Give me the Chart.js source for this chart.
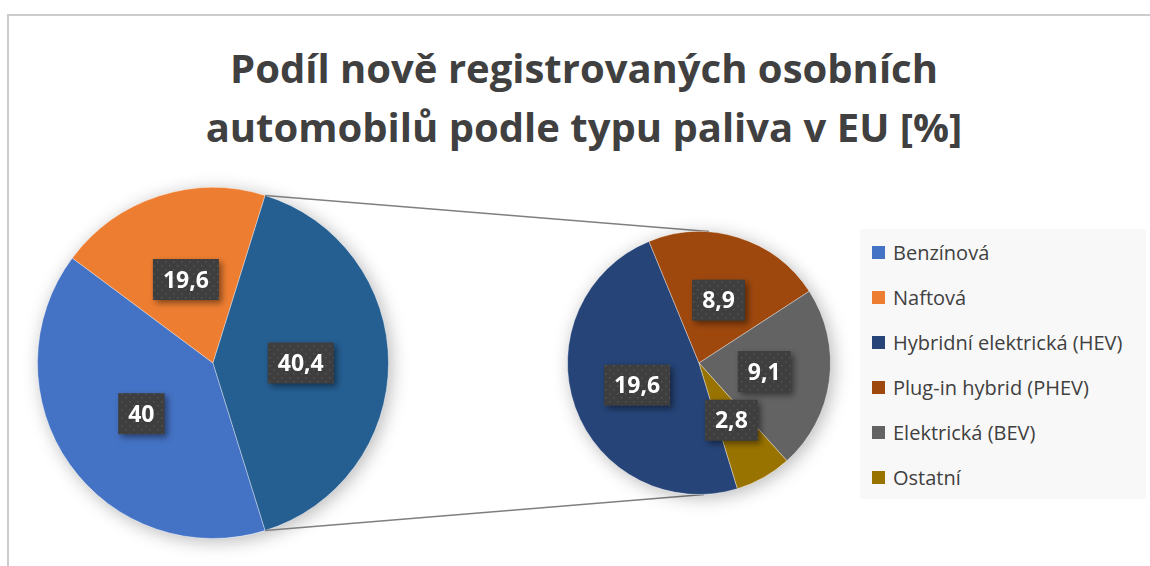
<!DOCTYPE html>
<html lang="cs">
  <head>
    <meta charset="UTF-8" />
    <title>Podíl nově registrovaných osobních automobilů</title>
    <script src="https://cdn.jsdelivr.net/npm/chart.js"></script>
    <style>
      body {
        margin: 0;
        background: #ffffff;
        font-family: "Open Sans", sans-serif;
      }
      #wrap {
        position: relative;
        width: 1150px;
        height: 566px;
        overflow: hidden;
      }
      .frame {
        position: absolute;
        left: 7px;
        top: 14px;
        right: -4px;
        bottom: -4px;
        border-top: 2px solid #cccccc;
        border-left: 2px solid #cccccc;
      }
      .layer {
        position: absolute;
        left: 0;
        top: 0;
        width: 1150px;
        height: 566px;
      }
      #title {
        position: absolute;
        left: 18px;
        width: 1132px;
        top: 38px;
        text-align: center;
        font-weight: bold;
        font-size: 40px;
        line-height: 59px;
        color: #404040;
      }
      #legend {
        position: absolute;
        left: 860px;
        top: 229px;
        width: 286px;
        height: 270px;
        background: #f8f8f8;
        padding-top: 0.5px;
        box-sizing: border-box;
      }
      #legend div {
        height: 45px;
        display: flex;
        align-items: center;
        padding-left: 12px;
        font-size: 20px;
        color: #404040;
      }
      #legend span {
        display: inline-block;
        width: 13px;
        height: 13px;
        margin-right: 8px;
      }
    </style>
  </head>
  <body>
    <div id="wrap">
      <div class="frame"></div>
      <div id="title">
        Podíl nově registrovaných osobních<br />automobilů podle typu paliva v EU [%]
      </div>
      <div class="layer"><canvas id="mainPie"></canvas></div>
      <div class="layer"><canvas id="subPie"></canvas></div>
      <div id="legend"></div>
    </div>

    <script>
      // hlavní koláč: poslední výseč = součet sekundárního koláče
      const mainLabels = ["Benzínová", "Naftová", "Ostatní typy"];
      const mainValues = [40, 19.6, 40.4];
      const mainColors = ["#4472C4", "#ED7D31", "#255E91"];

      // sekundární koláč
      const subLabels = [
        "Hybridní elektrická (HEV)",
        "Plug-in hybrid (PHEV)",
        "Elektrická (BEV)",
        "Ostatní",
      ];
      const subValues = [19.6, 8.9, 9.1, 2.8];
      const subColors = ["#264478", "#9E480E", "#636363", "#997300"];

      // tečkovaná výplň štítků
      const tile = document.createElement("canvas");
      tile.width = 8;
      tile.height = 8;
      const tctx = tile.getContext("2d");
      tctx.fillStyle = "#3e3e3e";
      tctx.fillRect(0, 0, 8, 8);
      tctx.fillStyle = "#555555";
      tctx.fillRect(1, 1, 1.5, 1.5);
      tctx.fillRect(5, 5, 1.5, 1.5);

      const pieShadow = {
        id: "pieShadow",
        beforeDatasetsDraw(chart) {
          const arc = chart.getDatasetMeta(0).data[0];
          const ctx = chart.ctx;
          ctx.save();
          ctx.shadowColor = "rgba(0,0,0,0.28)";
          ctx.shadowBlur = 18;
          ctx.shadowOffsetX = 3;
          ctx.shadowOffsetY = 3;
          ctx.beginPath();
          ctx.arc(arc.x, arc.y, arc.outerRadius, 0, Math.PI * 2);
          ctx.fillStyle = "#ffffff";
          ctx.fill();
          ctx.restore();
        },
      };

      const labelBoxes = {
        id: "labelBoxes",
        afterDatasetsDraw(chart) {
          const ctx = chart.ctx;
          const values = chart.data.datasets[0].data;
          const pattern = ctx.createPattern(tile, "repeat");
          ctx.save();
          ctx.font = 'bold 23px "Open Sans"';
          ctx.textAlign = "center";
          ctx.textBaseline = "alphabetic";
          chart.getDatasetMeta(0).data.forEach((arc, i) => {
            const p = arc.getCenterPoint();
            const txt = String(values[i]).replace(".", ",");
            const w = ctx.measureText(txt).width + 20;
            const h = 41;
            ctx.save();
            ctx.shadowColor = "rgba(0,0,0,0.45)";
            ctx.shadowBlur = 6;
            ctx.shadowOffsetX = 3;
            ctx.shadowOffsetY = 3;
            ctx.fillStyle = pattern;
            ctx.fillRect(p.x - w / 2, p.y - h / 2, w, h);
            ctx.restore();
            ctx.fillStyle = "#ffffff";
            ctx.fillText(txt, p.x, p.y + 8);
          });
          ctx.restore();
        },
      };

      const baseOptions = {
        responsive: true,
        maintainAspectRatio: false,
        animation: false,
        events: [],
        plugins: {
          legend: { display: false },
          tooltip: { enabled: false },
        },
      };

      const otherShare = mainValues[mainValues.length - 1];
      const mainChart = new Chart(document.getElementById("mainPie"), {
        type: "pie",
        data: {
          labels: mainLabels,
          datasets: [
            {
              data: mainValues,
              backgroundColor: mainColors,
              borderColor: "rgba(255,255,255,0.35)",
              borderWidth: 1,
            },
          ],
        },
        options: {
          ...baseOptions,
          rotation: 90 + (otherShare * 3.6) / 2,
          layout: { padding: { left: 37, top: 187, right: 761, bottom: 27 } },
        },
        plugins: [pieShadow, labelBoxes],
      });

      const connectors = {
        id: "connectors",
        beforeDatasetsDraw(chart) {
          const other = mainChart.getDatasetMeta(0).data[2];
          const sub = chart.getDatasetMeta(0).data[0];
          const ctx = chart.ctx;
          const r = other.outerRadius;
          ctx.save();
          ctx.strokeStyle = "#7f7f7f";
          ctx.lineWidth = 1.5;
          ctx.beginPath();
          ctx.moveTo(other.x + r * Math.cos(other.startAngle), other.y + r * Math.sin(other.startAngle));
          ctx.lineTo(sub.x + 10, sub.y - sub.outerRadius);
          ctx.moveTo(other.x + r * Math.cos(other.endAngle), other.y + r * Math.sin(other.endAngle));
          ctx.lineTo(sub.x + 5, sub.y + sub.outerRadius);
          ctx.stroke();
          ctx.restore();
        },
      };

      new Chart(document.getElementById("subPie"), {
        type: "pie",
        data: {
          labels: subLabels,
          datasets: [
            {
              data: subValues,
              backgroundColor: subColors,
              borderColor: "rgba(255,255,255,0.35)",
              borderWidth: 1,
            },
          ],
        },
        options: {
          ...baseOptions,
          rotation: 163,
          layout: { padding: { left: 567, top: 231, right: 319, bottom: 71 } },
        },
        plugins: [connectors, pieShadow, labelBoxes],
      });

      // legenda
      const legend = document.getElementById("legend");
      const legendLabels = mainLabels.slice(0, 2).concat(subLabels);
      const legendColors = mainColors.slice(0, 2).concat(subColors);
      legendLabels.forEach((name, i) => {
        const row = document.createElement("div");
        const box = document.createElement("span");
        box.style.background = legendColors[i];
        row.appendChild(box);
        row.appendChild(document.createTextNode(name));
        legend.appendChild(row);
      });
    </script>
  </body>
</html>
